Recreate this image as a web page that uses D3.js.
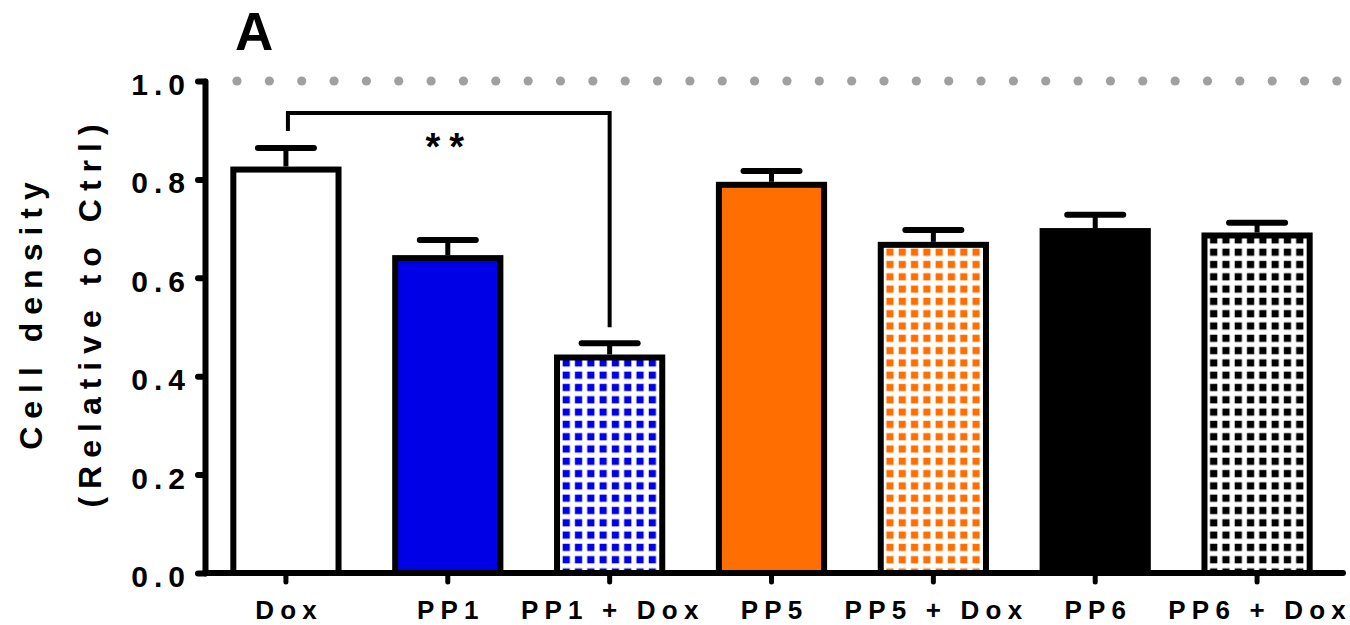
<!DOCTYPE html>
<html>
<head>
<meta charset="utf-8">
<script src="https://cdn.jsdelivr.net/npm/d3@7"></script>
<style>
  html, body { margin: 0; padding: 0; background: #fff; }
  svg { display: block; font-family: "Liberation Sans", Arial, sans-serif; font-weight: bold; }
</style>
</head>
<body>
<svg id="chart" width="1350" height="625"></svg>
<script>
// Cell density relative to control, mean and SEM per treatment
const categories = ["Dox", "PP1", "PP1 + Dox", "PP5", "PP5 + Dox", "PP6", "PP6 + Dox"];
const means = [0.820, 0.640, 0.438, 0.789, 0.667, 0.695, 0.686];
const errors = [0.044, 0.037, 0.029, 0.028, 0.030, 0.033, 0.026];
const yTicks = [0.0, 0.2, 0.4, 0.6, 0.8, 1.0];
const referenceLevel = 1.0;
const significance = { from: "Dox", to: "PP1 + Dox", label: "**" };

const svg = d3.select("#chart");

// Letter-spaced text without trailing space after the final glyph
function spaced(sel, str, ls) {
  sel.text(null);
  if (!str) return;
  sel.append("tspan").attr("letter-spacing", ls).text(str.slice(0, -1));
  sel.append("tspan").attr("letter-spacing", 0).text(str.slice(-1));
}

const x = d3.scaleBand()
  .domain(categories)
  .range([205, 1338])
  .paddingInner(0.35)
  .paddingOuter(0.175);

const y = d3.scaleLinear().domain([0, 1]).range([573, 81]);

// Fill styles: solid or square-dot pattern
const fills = [
  { color: "#ffffff", pattern: false },
  { color: "#0000e6", pattern: false },
  { color: "#0000e6", pattern: true },
  { color: "#ff6e00", pattern: false },
  { color: "#ff6e00", pattern: true },
  { color: "#000000", pattern: false },
  { color: "#000000", pattern: true }
];

const defs = svg.append("defs");
fills.forEach((f, i) => {
  if (!f.pattern) return;
  const p = defs.append("pattern")
    .attr("id", "pat" + i)
    .attr("patternUnits", "userSpaceOnUse")
    .attr("width", 12.3).attr("height", 12.3)
    .attr("x", x(categories[i]) + 3).attr("y", 0);
  p.append("rect").attr("width", 12.3).attr("height", 12.3).attr("fill", "#fff");
  p.append("rect").attr("x", 2.6).attr("y", 2.6).attr("width", 7.2).attr("height", 7.2).attr("fill", f.color);
});

// Dotted reference line at 1.0
const dotXs = d3.range(237, 1345, 32.35);
svg.append("g").selectAll("circle")
  .data(dotXs)
  .join("circle")
  .attr("cx", d => d)
  .attr("cy", y(referenceLevel))
  .attr("r", 4.6)
  .attr("fill", "#a0a0a0");

// Bars
svg.append("g").selectAll("rect")
  .data(categories)
  .join("rect")
  .attr("x", d => x(d))
  .attr("y", (d, i) => y(means[i]))
  .attr("width", x.bandwidth())
  .attr("height", (d, i) => y(0) - y(means[i]))
  .attr("fill", (d, i) => fills[i].pattern ? `url(#pat${i})` : fills[i].color)
  .attr("stroke", "#000")
  .attr("stroke-width", 6);

// Error bars (upper only)
const eb = svg.append("g").attr("stroke", "#000").attr("stroke-linecap", "round");
categories.forEach((c, i) => {
  const cx = x(c) + x.bandwidth() / 2;
  const top = y(means[i] + errors[i]);
  eb.append("line").attr("x1", cx).attr("x2", cx)
    .attr("y1", y(means[i]) - 3).attr("y2", top).attr("stroke-width", 5).attr("stroke-linecap", "butt");
  eb.append("line").attr("x1", cx - 28).attr("x2", cx + 28)
    .attr("y1", top).attr("y2", top).attr("stroke-width", 6);
});

// Significance bracket
{
  const i0 = categories.indexOf(significance.from);
  const i1 = categories.indexOf(significance.to);
  const x0 = x(significance.from) + x.bandwidth() / 2 + 2;
  const x1 = x(significance.to) + x.bandwidth() / 2;
  const yTop = 113;
  svg.append("path")
    .attr("d", `M${x0},${y(means[i0] + errors[i0]) - 17}V${yTop}H${x1}V${y(means[i1] + errors[i1]) - 16}`)
    .attr("fill", "none")
    .attr("stroke", "#000")
    .attr("stroke-width", 4);
  svg.append("text")
    .attr("x", (x0 + x1) / 2 - 4)
    .attr("y", 160)
    .attr("text-anchor", "middle")
    .attr("font-size", 38)
    .call(spaced, significance.label, 9);
}

// Y axis
const yAxis = svg.append("g")
  .attr("transform", "translate(205,0)")
  .call(d3.axisLeft(y).tickValues(yTicks).tickFormat(d3.format(".1f")).tickSize(7).tickSizeOuter(0).tickPadding(13));
yAxis.select(".domain").attr("stroke-width", 6).attr("stroke-linecap", "round");
yAxis.selectAll(".tick line").attr("stroke-width", 6).attr("stroke-linecap", "round");
yAxis.selectAll(".tick text")
  .attr("font-size", 30)
  .attr("font-family", "'Liberation Sans', Arial, sans-serif")
  .attr("font-weight", "bold")
  .attr("fill", "#000")
  .attr("dy", "0.45em")
  .each(function(d) { d3.select(this).call(spaced, d3.format(".1f")(d), 6); });

// X axis
const xAxis = svg.append("g")
  .attr("transform", "translate(0,573)")
  .call(d3.axisBottom(x).tickSize(9).tickSizeOuter(0));
xAxis.select(".domain").attr("stroke-width", 6).attr("stroke-linecap", "round")
  .attr("d", "M205,0H1343");
xAxis.selectAll(".tick line").attr("stroke-width", 5).attr("stroke-linecap", "round");
xAxis.selectAll(".tick text")
  .attr("font-size", 26)
  .attr("font-family", "'Liberation Sans', Arial, sans-serif")
  .attr("font-weight", "bold")
  .attr("fill", "#000")
  .attr("y", 46)
  .attr("dy", 0)
  .each(function(d) { d3.select(this).call(spaced, d, 6.2); });

// Y axis title
const yTitle = svg.append("g").attr("transform", "translate(0,316) rotate(-90)")
  .attr("font-size", 32);
yTitle.append("text").attr("x", 0).attr("y", 42).attr("text-anchor", "middle")
  .call(spaced, "Cell density", 8);
yTitle.append("text").attr("x", 0).attr("y", 101).attr("text-anchor", "middle")
  .call(spaced, "(Relative to Ctrl)", 8);

// Panel letter
svg.append("text")
  .attr("x", 235)
  .attr("y", 50)
  .attr("font-size", 53)
  .text("A");
</script>
</body>
</html>
